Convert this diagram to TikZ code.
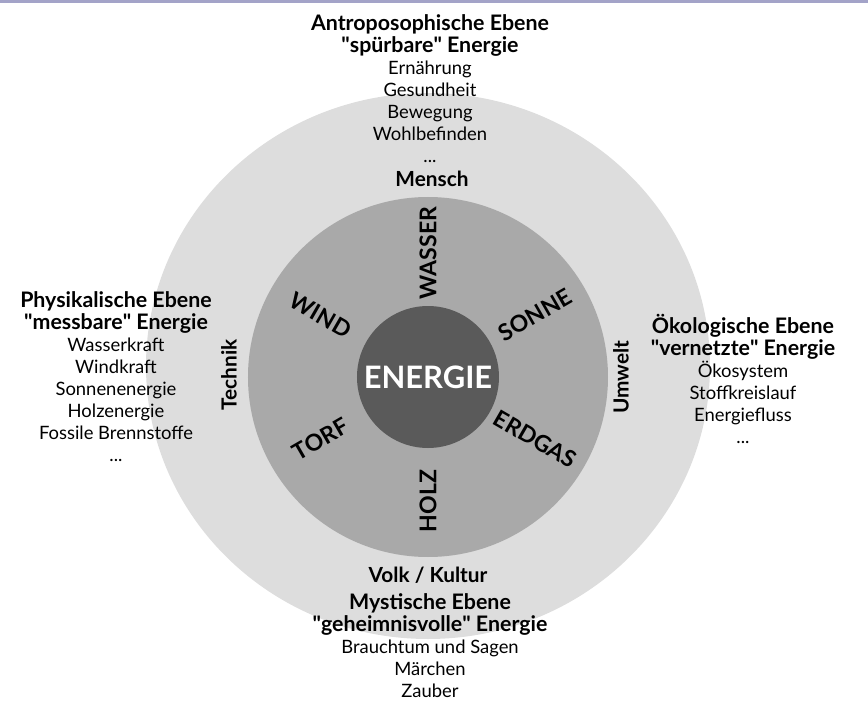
\documentclass[tikz,border=0pt]{standalone}
\usepackage{fontspec}
\setmainfont{Lato}
\usetikzlibrary{positioning}
\definecolor{aussen}{RGB}{221,221,221}
\definecolor{mitte}{RGB}{169,169,169}
\definecolor{kern}{RGB}{90,90,90}
\definecolor{rand}{RGB}{163,163,200}
\newcommand{\gq}{\textquotedbl}
\newcommand{\kopf}[1]{{\fontsize{15.2}{15.65}\selectfont\bfseries #1}}
\tikzset{
    ebene/.style={align=center, font=\fontsize{13.1}{15.65}\selectfont},
    pol/.style={font=\fontsize{14.8}{16}\selectfont\bfseries},
    traeger/.style={font=\fontsize{16.4}{18}\selectfont\bfseries},
}

\begin{document}
\begin{tikzpicture}
    \useasboundingbox (-10.7,-8.175) rectangle (11.0,9.425);
    \fill [rand] (-10.7,9.35) rectangle (11.0,9.425);
    \fill [aussen] (0,0.275) ellipse (7.05cm and 6.825cm);
    \fill [mitte] (0,0) circle (4.5cm);
    \fill [kern] (0,0) circle (1.775cm);
    \node [text=white, font=\fontsize{22}{24}\selectfont\bfseries, inner sep=1pt] (energie) at (0,0) {ENERGIE};
    % Energietraeger rund um den Kern
    \foreach \w/\r/\t in {90/90/WASSER, 30/30/SONNE, -30/-30/ERDGAS, -90/90/HOLZ, 210/30/TORF, 150/-30/WIND}
        \node [traeger, rotate=\r, inner sep=1pt] (\t) at (\w:3.1) {\t};
    % Pole im aeusseren Ring
    \node [pol] (mensch) at (0.1,4.95) {Mensch};
    \node [pol] (volk) at (0,-4.95) {Volk / Kultur};
    \node [pol, rotate=90] (technik) at (-4.975,0.05) {Technik};
    \node [pol, rotate=90] (umwelt) at (4.825,0) {Umwelt};
    % Ebenen
    \node [ebene] (anthro) at (0.05,7.21) {\kopf{Antroposophische Ebene}\\\kopf{\gq spürbare\gq{} Energie}\\Ernährung\\Gesundheit\\Bewegung\\Wohlbefinden\\...};
    \node [ebene] (physik) at (-7.8,0) {\kopf{Physikalische Ebene}\\\kopf{\gq messbare\gq{} Energie}\\Wasserkraft\\Windkraft\\Sonnenenergie\\Holzenergie\\Fossile Brennstoffe\\...};
    \node [ebene] (oeko) at (7.875,-0.05) {\kopf{Ökologische Ebene}\\\kopf{\gq vernetzte\gq{} Energie}\\Ökosystem\\Stoffkreislauf\\Energiefluss\\...};
    \node [ebene] (mystik) at (0.05,-6.71) {\kopf{Mystische Ebene}\\\kopf{\gq geheimnisvolle\gq{} Energie}\\Brauchtum und Sagen\\Märchen\\Zauber};
\end{tikzpicture}
\end{document}
